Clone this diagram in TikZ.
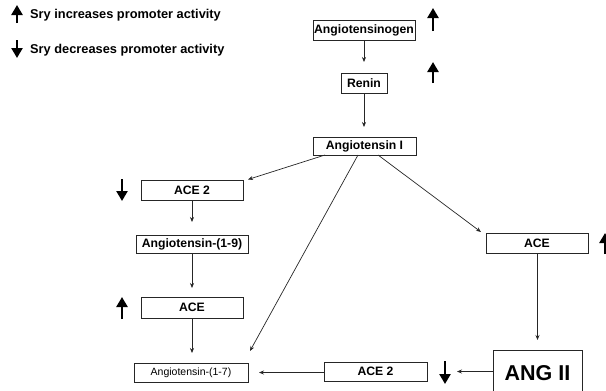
\documentclass[tikz,border=0pt]{standalone}
\usepackage{fontspec}
\setmainfont{Liberation Sans}
\usetikzlibrary{arrows.meta}
\begin{document}
\begin{tikzpicture}[x=1pt,y=-1pt,
  box/.style={draw=black!85,line width=0.8pt,inner sep=0pt,minimum height=20pt,
    font=\fontsize{12.2}{14}\selectfont\bfseries},
  conn/.style={draw=black!85,line width=0.7pt,-{Stealth[length=5pt,width=4pt]}},
  upar/.style={line width=2.8pt,-{Triangle[length=10pt,width=11pt]}},
  legtxt/.style={anchor=west,inner sep=0pt,font=\fontsize{12.8}{14}\selectfont\bfseries}
]
\useasboundingbox (0,0) rectangle (606,391);
% legend
\coordinate (lu1) at (17,23); \coordinate (lu2) at (17,5);
\draw[upar] (lu1) -- (lu2);
\node[legtxt] (lt1) at (30,15) {Sry increases promoter activity};
\coordinate (ld1) at (17,40); \coordinate (ld2) at (17,58);
\draw[upar] (ld1) -- (ld2);
\node[legtxt] (lt2) at (30,50) {Sry decreases promoter activity};
% boxes
\node[box,minimum width=102pt] (ago) at (364,30) {Angiotensinogen};
\node[box,minimum width=46pt] (renin) at (364,83) {Renin};
\node[box,minimum width=103pt,minimum height=18pt] (angI) at (364.5,146) {Angiotensin I};
\node[box,minimum width=102pt] (ace2a) at (192,190) {ACE 2};
\node[box,minimum width=112pt,minimum height=18pt] (a19) at (192,244) {Angiotensin-(1-9)};
\node[box,minimum width=102pt,minimum height=21pt] (acel) at (192,307.5) {ACE};
\node[box,minimum width=114pt,minimum height=19pt,font=\fontsize{10.5}{12}\selectfont] (a17) at (191,372.5) {Angiotensin-(1-7)};
\node[box,minimum width=102pt] (acer) at (537,243) {ACE};
\node[box,minimum width=103pt,minimum height=19pt] (ace2b) at (375.5,371.5) {ACE 2};
\node[box,minimum width=89pt,minimum height=46pt,font=\fontsize{21.5}{23}\selectfont\bfseries] (ang2) at (537.5,373.5) {\raisebox{2pt}{ANG II}};
% connectors
\coordinate (t1) at (364,62);
\draw[conn] (ago.south) -- (t1);
\coordinate (t2) at (364,127);
\draw[conn] (renin.south) -- (t2);
\coordinate (s3) at (325,155); \coordinate (t3) at (248,179.5);
\draw[conn] (s3) -- (t3);
\coordinate (s4) at (358,155); \coordinate (t4) at (250,351);
\draw[conn] (s4) -- (t4);
\coordinate (s5) at (378,155); \coordinate (t5) at (481,232);
\draw[conn] (s5) -- (t5);
\coordinate (t6) at (192,222);
\draw[conn] (ace2a.south) -- (t6);
\coordinate (t7) at (192,288);
\draw[conn] (a19.south) -- (t7);
\coordinate (t8) at (192,353);
\draw[conn] (acel.south) -- (t8);
\coordinate (t9) at (537.5,340);
\draw[conn] (acer.south -| t9) -- (t9);
\coordinate (t10) at (457,371.5);
\draw[conn] (ang2.west |- t10) -- (t10);
\coordinate (t11) at (259,372.5);
\draw[conn] (ace2b.west |- t11) -- (t11);
% Sry effect arrows
\coordinate (u1a) at (433,31); \coordinate (u1b) at (433,8);
\draw[upar] (u1a) -- (u1b);
\coordinate (u2a) at (433,83); \coordinate (u2b) at (433,62);
\draw[upar] (u2a) -- (u2b);
\coordinate (d3a) at (122,179); \coordinate (d3b) at (122,201);
\draw[upar] (d3a) -- (d3b);
\coordinate (u4a) at (122,319); \coordinate (u4b) at (122,297);
\draw[upar] (u4a) -- (u4b);
\coordinate (u5a) at (605,254); \coordinate (u5b) at (605,233);
\draw[upar] (u5a) -- (u5b);
\coordinate (d6a) at (445,361); \coordinate (d6b) at (445,384);
\draw[upar] (d6a) -- (d6b);
\end{tikzpicture}
\end{document}
